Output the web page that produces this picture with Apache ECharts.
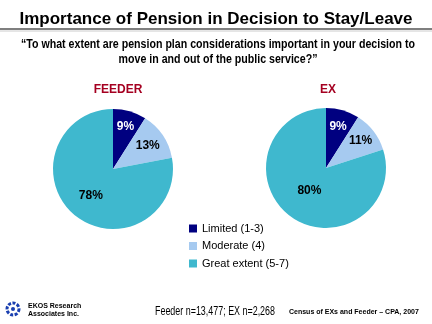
<!DOCTYPE html>
<html><head><meta charset="utf-8">
<script src="https://cdn.jsdelivr.net/npm/echarts@6/dist/echarts.min.js"></script>
<style>html,body{margin:0;padding:0;background:#fff}#c{width:432px;height:324px}</style>
</head><body><div id="c"></div>
<script>
const categories = ['Limited (1-3)', 'Moderate (4)', 'Great extent (5-7)'];
const feederValues = [9, 13, 78];
const exValues = [9, 11, 80];
const colors = ['#000080', '#A6CAF0', '#3FB8CE'];
const labelColors = ['#ffffff', '#000000', '#000000'];
const subtitleLines = ['“To what extent are pension plan considerations important in your decision to', 'move in and out of the public service?”'];
const footerNote = 'Feeder n=13,477; EX n=2,268';
const sourceNote = 'Census of EXs and Feeder – CPA, 2007';

// label radial placement (fraction of radius) per slice
const feederLabelR = [0.74, 0.70, 0.58];
const exLabelR = [0.72, 0.73, 0.47];
const R = 60;
const feederCenter = [113, 169];
const exCenter = [326, 168];

function mk(vals) {
  return vals.map((v, i) => ({
    name: categories[i], value: v,
    label: { color: labelColors[i] }
  }));
}

const cv = document.createElement('canvas').getContext('2d');
function measure(font, t) { cv.font = font; return cv.measureText(t).width; }
const subFont = 'bold 12px "Liberation Sans"';
const subScale = 394 / measure(subFont, subtitleLines[0]);
const footFont = '12px "Liberation Sans"';
const footScale = 120 / measure(footFont, footerNote);

function layoutFor(center, ratios) {
  return function (p) {
    const r = p.labelRect;
    const cx = r.x + r.width / 2, cy = r.y + r.height / 2;
    const dx = cx - center[0], dy = cy - center[1];
    const d = Math.sqrt(dx * dx + dy * dy) || 1;
    const k = ratios[p.dataIndex] * R / d;
    return { dx: dx * (k - 1), dy: dy * (k - 1) };
  };
}

const chart = echarts.init(document.getElementById('c'), null, {renderer: 'canvas'});
const pieCommon = {
  type: 'pie', radius: [0, R], startAngle: 90, clockwise: true,
  animation: false, silent: true,
  label: { position: 'inside', formatter: '{c}%', fontFamily: 'Liberation Sans', fontWeight: 'bold', fontSize: 12 },
  labelLine: { show: false },
  itemStyle: { borderWidth: 0 }
};
chart.setOption({
  color: colors,
  animation: false,
  title: [
    { text: 'Importance of Pension in Decision to Stay/Leave', left: 'center', top: 6,
      textStyle: { fontFamily: 'Liberation Sans', fontWeight: 'bold', fontSize: 17, color: '#000' } },
    { text: 'FEEDER', left: 113, top: 79, textAlign: 'center',
      textStyle: { fontFamily: 'Liberation Sans', fontWeight: 'bold', fontSize: 12, color: '#A50021' } },
    { text: 'EX', left: 323, top: 79, textAlign: 'center',
      textStyle: { fontFamily: 'Liberation Sans', fontWeight: 'bold', fontSize: 12, color: '#A50021' } }
  ],
  legend: {
    orient: 'vertical', left: 184, top: 218, itemWidth: 8, itemHeight: 8, itemGap: 6.5,
    icon: 'rect', data: categories,
    textStyle: { fontFamily: 'Liberation Sans', fontSize: 11, color: '#000' }
  },
  series: [
    Object.assign({}, pieCommon, { name: 'FEEDER', center: feederCenter, data: mk(feederValues), labelLayout: layoutFor(feederCenter, feederLabelR) }),
    Object.assign({}, pieCommon, { name: 'EX', center: exCenter, data: mk(exValues), labelLayout: layoutFor(exCenter, exLabelR) })
  ],
  graphic: [
    { type: 'line', shape: { x1: 0, y1: 29, x2: 432, y2: 29 }, style: { stroke: '#555', lineWidth: 1.5 } },
    { type: 'line', shape: { x1: 0, y1: 31, x2: 432, y2: 31 }, style: { stroke: '#ccc', lineWidth: 1 } },
    { type: 'text', x: 218, y: 45, scaleX: subScale, style: { text: subtitleLines[0], font: subFont, fill: '#000', align: 'center', verticalAlign: 'middle' } },
    { type: 'text', x: 218, y: 60, scaleX: subScale, style: { text: subtitleLines[1], font: subFont, fill: '#000', align: 'center', verticalAlign: 'middle' } },
    { type: 'text', x: 155, y: 312, scaleX: footScale, style: { text: footerNote, font: footFont, fill: '#000', verticalAlign: 'middle' } },
    { type: 'text', x: 289, y: 312, style: { text: sourceNote, font: 'bold 7px "Liberation Sans"', fill: '#000', verticalAlign: 'middle' } },
    { type: 'text', left: 28, top: 302, style: { text: 'EKOS Research\nAssociates Inc.', font: 'bold 7px "Liberation Sans"', lineHeight: 8, fill: '#000' } },
    { type: 'circle', shape: { cx: 13, cy: 309, r: 6 }, style: { fill: 'none', stroke: '#1a3fb0', lineWidth: 3, lineDash: [3, 1.5] } },
    { type: 'circle', shape: { cx: 13, cy: 309, r: 2 }, style: { fill: '#1a3fb0' } }
  ]
});
</script></body></html>
